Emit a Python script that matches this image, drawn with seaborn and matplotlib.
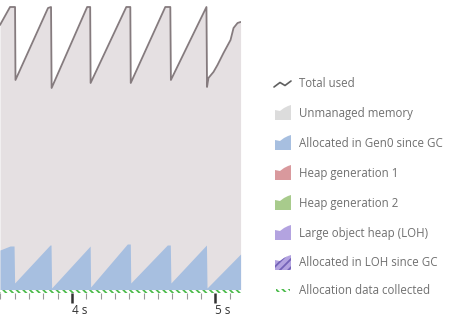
import numpy as np
import pandas as pd
import matplotlib
matplotlib.use("Agg")
import matplotlib.pyplot as plt
from matplotlib.patches import Polygon
import seaborn as sns

# ---- data (time in s, memory in MB) ----
total_t = [3.497, 3.567, 3.602, 3.605, 3.832, 3.853, 3.857, 4.105, 4.126, 4.129,
           4.378, 4.406, 4.409, 4.650, 4.685, 4.689, 4.937, 4.941, 4.951, 4.986,
           5.014, 5.056, 5.105, 5.126, 5.154, 5.175]
total_mb = [132.5, 141.5, 141.5, 105.0, 141.0, 141.5, 101.0, 141.5, 141.5, 103.5,
            141.5, 141.5, 103.5, 141.5, 141.5, 105.0, 141.5, 101.5, 106.0, 109.0,
            112.5, 118.5, 125.0, 131.0, 133.5, 134.0]

gen0_t = [3.497, 3.567, 3.595, 3.599, 3.846, 3.853, 3.857, 4.126, 4.129,
          4.385, 4.406, 4.409, 4.664, 4.685, 4.689, 4.937, 4.941, 5.175]
gen0_mb = [20.0, 22.0, 22.0, 3.5, 22.5, 22.5, 1.0, 22.0, 1.5,
           23.0, 23.0, 3.5, 22.5, 22.5, 3.5, 22.5, 1.0, 18.0]

major_ticks = [4, 5]
major_labels = ["4 s", "5 s"]

legend_labels = ["Total used", "Unmanaged memory", "Allocated in Gen0 since GC",
                 "Heap generation 1", "Heap generation 2", "Large object heap (LOH)",
                 "Allocated in LOH since GC", "Allocation data collected"]

# ---- styling ----
sns.set_theme(style="white")
plt.rcParams['font.family'] = ['Open Sans', 'DejaVu Sans']
plt.rcParams['hatch.linewidth'] = 1.3

W, H = 452, 322
fig = plt.figure(figsize=(W / 100, H / 100), dpi=100)
fig.patch.set_facecolor("white")

ax_bottom_px = 293
ax_right_px = 241
ax = fig.add_axes([0, (H - ax_bottom_px) / H, ax_right_px / W, ax_bottom_px / H])
ax.set_facecolor("white")

total_df = pd.DataFrame({"t": total_t, "mb": total_mb})
gen0_df = pd.DataFrame({"t": gen0_t, "mb": gen0_mb})

ax.fill_between(total_df["t"], 0, total_df["mb"], color="#e5e0e2", linewidth=0, zorder=1)
ax.fill_between(gen0_df["t"], 0, gen0_df["mb"], color="#a7bfe0", linewidth=0, zorder=2)
sns.lineplot(data=total_df, x="t", y="mb", ax=ax, color="#857b7e", linewidth=1.3,
             zorder=3, estimator=None, sort=False)

# allocation data collected strip (hatched)
ax.fill_between([total_t[0], total_t[-1]], -1.5, 0.0, facecolor="white",
                edgecolor="#4cbb4c", hatch="\\\\\\\\\\", linewidth=0, zorder=4)

ax.set_xlim(3.497, 5.178)
ax.set_ylim(-1.5, 145)
ax.set_xlabel("")
ax.set_ylabel("")
for s in ax.spines.values():
    s.set_visible(False)
ax.set_yticks([])
ax.set_xticks(major_ticks)
ax.set_xticklabels(major_labels, ha="left", fontsize=8.5, color="#333333")
ax.set_xticks(np.arange(3.5, 5.18, 0.1), minor=True)
ax.tick_params(axis="x", which="major", length=7, width=1.8, color="#333333",
               pad=1, bottom=True, direction="out")
ax.tick_params(axis="x", which="minor", length=4, width=0.8, color="#999999",
               bottom=True, direction="out")

# ---- legend (drawn in pixel coordinates) ----
lg = fig.add_axes([0, 0, 1, 1], zorder=10)
lg.set_xlim(0, W)
lg.set_ylim(H, 0)
lg.axis("off")
lg.patch.set_alpha(0)

rows_y = [83, 113, 143, 173, 203, 233, 263, 290]
fill_cols = [None, "#dcdcdc", "#a7bfe0", "#d9999d", "#a8cb8c", "#b3a3e0", "#b3a3e0", None]

def area_icon(yc, color, hatch=None):
    x0 = 275
    pts = [(x0, yc + 7), (x0, yc - 3), (x0 + 5, yc - 2), (x0 + 9, yc - 5),
           (x0 + 13, yc - 7), (x0 + 16, yc - 8), (x0 + 16, yc + 7)]
    if hatch:
        p = Polygon(pts, closed=True, facecolor=color, edgecolor="#7463b8",
                    hatch=hatch, linewidth=0)
    else:
        p = Polygon(pts, closed=True, facecolor=color, edgecolor="none", linewidth=0)
    lg.add_patch(p)

for i, (lab, yc) in enumerate(zip(legend_labels, rows_y)):
    if i == 0:
        lg.plot([274, 280, 285, 291], [87, 82.5, 85.5, 81], color="#5f5f5f", linewidth=1.2)
    elif i == 7:
        strip = Polygon([(276, yc - 1.5), (290, yc - 1.5), (290, yc + 1.5), (276, yc + 1.5)],
                        closed=True, facecolor="white", edgecolor="#4cbb4c",
                        hatch="\\\\\\\\\\", linewidth=0)
        lg.add_patch(strip)
    elif i == 6:
        area_icon(yc, fill_cols[i], hatch="////")
    else:
        area_icon(yc, fill_cols[i])
    lg.text(299, yc, lab, fontsize=8.3, color="#707070", va="center", ha="left")

fig.savefig("out.png", dpi=100, facecolor="white")
